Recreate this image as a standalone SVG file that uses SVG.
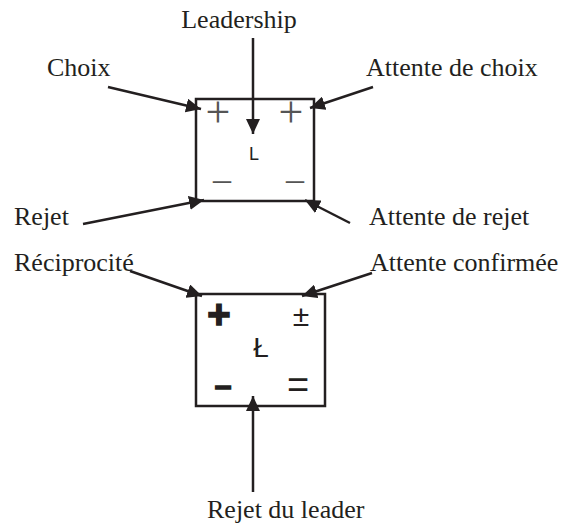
<svg xmlns="http://www.w3.org/2000/svg" width="563" height="529" viewBox="0 0 563 529">
<style>
.lbl{font-family:"Liberation Serif","Times New Roman",serif;font-size:26px;fill:#231f20}
.box{fill:#fff;stroke:#231f20;stroke-width:2.5}
.thin{font-family:"Liberation Serif","Times New Roman",serif;fill:#555;text-anchor:middle}
.sans{font-family:"Liberation Sans",Arial,sans-serif;fill:#231f20;text-anchor:middle}
.heavy{stroke:#231f20;stroke-width:1.5}
.conn line{stroke:#231f20;stroke-width:2.5;marker-end:url(#ah)}
</style>
<defs>
<marker id="ah" markerUnits="userSpaceOnUse" markerWidth="16" markerHeight="14" refX="15" refY="7" orient="auto">
<path d="M0,0 L15,7 L0,14 z" fill="#231f20"/>
</marker>
</defs>
<rect width="563" height="529" fill="#fff"/>
<g id="box-top">
<rect class="box" x="196" y="99" width="118" height="102"/>
<text class="thin" x="218" y="127" font-size="44">+</text>
<text class="thin" x="291" y="127" font-size="44">+</text>
<text class="sans" x="254" y="160" font-size="18">L</text>
<text class="thin" x="222" y="191" font-size="36">–</text>
<text class="thin" x="295" y="191" font-size="36">–</text>
</g>
<g id="box-bottom">
<rect class="box" x="196" y="294" width="129" height="112"/>
<text class="sans heavy" x="219" y="328" font-size="40" font-weight="bold">+</text>
<text class="sans" x="301" y="326" font-size="30">±</text>
<text class="sans" x="261" y="357" font-size="28">Ł</text>
<text class="sans heavy" x="223" y="396" font-size="30" font-weight="bold">–</text>
<text class="sans" x="298" y="398" font-size="38">=</text>
</g>
<g id="labels">
<text class="lbl" x="239" y="28" text-anchor="middle">Leadership</text>
<text class="lbl" x="47" y="76">Choix</text>
<text class="lbl" x="366" y="76">Attente de choix</text>
<text class="lbl" x="14" y="225">Rejet</text>
<text class="lbl" x="369" y="225">Attente de rejet</text>
<text class="lbl" x="14" y="271">Réciprocité</text>
<text class="lbl" x="370" y="271">Attente confirmée</text>
<text class="lbl" x="207" y="518">Rejet du leader</text>
</g>
<g id="connectors" class="conn">
<line x1="253" y1="38" x2="253" y2="134"/>
<line x1="108" y1="87" x2="201" y2="109"/>
<line x1="373" y1="87" x2="310" y2="108"/>
<line x1="83" y1="224" x2="204" y2="200"/>
<line x1="350" y1="223" x2="305" y2="200"/>
<line x1="130" y1="271" x2="202" y2="296"/>
<line x1="372" y1="273" x2="302" y2="296"/>
<line x1="253" y1="492" x2="253" y2="396"/>
</g>
</svg>
